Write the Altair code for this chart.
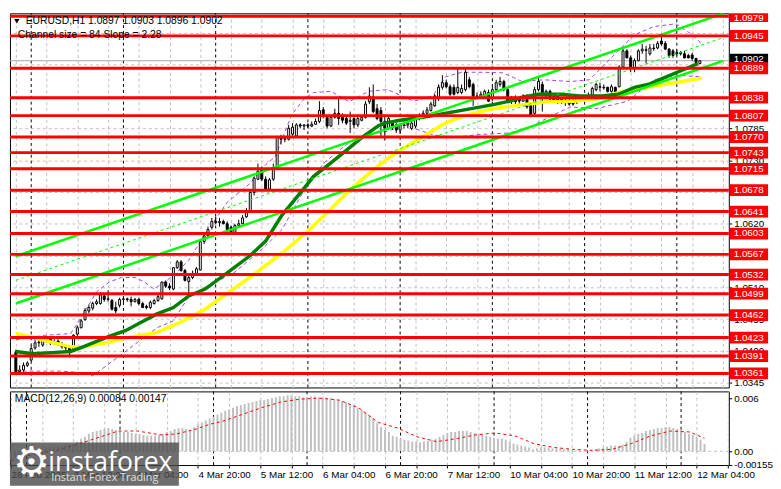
import altair as alt
import pandas as pd

# ---------------- data ----------------
opens = [1.0397, 1.0364, 1.0367, 1.0375, 1.0384, 1.0405, 1.0414, 1.0410, 1.0422, 1.0420,
         1.0414, 1.0417, 1.0412, 1.0407, 1.0405, 1.0402, 1.0429, 1.0440, 1.0454, 1.0469,
         1.0474, 1.0482, 1.0482, 1.0495, 1.0489, 1.0487, 1.0475, 1.0479, 1.0489, 1.0490,
         1.0489, 1.0485, 1.0489, 1.0482, 1.0477, 1.0475, 1.0482, 1.0487, 1.0490, 1.0519,
         1.0512, 1.0507, 1.0544, 1.0554, 1.0539, 1.0520, 1.0527, 1.0534, 1.0540, 1.0589,
         1.0599, 1.0614, 1.0624, 1.0622, 1.0624, 1.0620, 1.0614, 1.0605, 1.0617, 1.0620,
         1.0632, 1.0640, 1.0674, 1.0697, 1.0714, 1.0697, 1.0680, 1.0697, 1.0716, 1.0769,
         1.0766, 1.0766, 1.0775, 1.0772, 1.0791, 1.0789, 1.0791, 1.0789, 1.0792, 1.0797,
         1.0817, 1.0804, 1.0789, 1.0804, 1.0811, 1.0806, 1.0802, 1.0797, 1.0802, 1.0791,
         1.0799, 1.0804, 1.0831, 1.0839, 1.0819, 1.0816, 1.0797, 1.0785, 1.0794, 1.0791,
         1.0782, 1.0791, 1.0791, 1.0785, 1.0789, 1.0802, 1.0807, 1.0811, 1.0816, 1.0824,
         1.0836, 1.0856, 1.0864, 1.0857, 1.0856, 1.0847, 1.0847, 1.0852, 1.0869, 1.0861,
         1.0841, 1.0841, 1.0841, 1.0847, 1.0836, 1.0852, 1.0861, 1.0866, 1.0852, 1.0836,
         1.0839, 1.0836, 1.0832, 1.0841, 1.0824, 1.0811, 1.0852, 1.0861, 1.0841, 1.0849,
         1.0841, 1.0841, 1.0836, 1.0832, 1.0832, 1.0832, 1.0831, 1.0832, 1.0836, 1.0836,
         1.0841, 1.0852, 1.0856, 1.0856, 1.0856, 1.0849, 1.0856, 1.0857, 1.0891, 1.0919,
         1.0907, 1.0889, 1.0902, 1.0919, 1.0921, 1.0914, 1.0924, 1.0924, 1.0936, 1.0932,
         1.0922, 1.0919, 1.0916, 1.0916, 1.0914, 1.0911, 1.0912, 1.0906, 1.0897]
highs = [1.0402, 1.0375, 1.0380, 1.0382, 1.0409, 1.0422, 1.0422, 1.0425, 1.0425, 1.0424,
         1.0420, 1.0420, 1.0415, 1.0410, 1.0409, 1.0429, 1.0444, 1.0455, 1.0474, 1.0480,
         1.0485, 1.0489, 1.0502, 1.0500, 1.0505, 1.0490, 1.0485, 1.0492, 1.0494, 1.0492,
         1.0494, 1.0492, 1.0492, 1.0485, 1.0480, 1.0487, 1.0490, 1.0497, 1.0520, 1.0522,
         1.0517, 1.0545, 1.0557, 1.0557, 1.0542, 1.0530, 1.0539, 1.0545, 1.0592, 1.0605,
         1.0615, 1.0630, 1.0632, 1.0630, 1.0627, 1.0624, 1.0617, 1.0620, 1.0627, 1.0635,
         1.0647, 1.0677, 1.0702, 1.0724, 1.0719, 1.0702, 1.0699, 1.0724, 1.0772, 1.0774,
         1.0772, 1.0791, 1.0794, 1.0794, 1.0794, 1.0792, 1.0794, 1.0797, 1.0802, 1.0832,
         1.0822, 1.0807, 1.0807, 1.0819, 1.0836, 1.0811, 1.0807, 1.0814, 1.0807, 1.0806,
         1.0807, 1.0832, 1.0856, 1.0861, 1.0827, 1.0822, 1.0806, 1.0807, 1.0799, 1.0794,
         1.0794, 1.0797, 1.0799, 1.0802, 1.0806, 1.0811, 1.0816, 1.0822, 1.0831, 1.0844,
         1.0861, 1.0877, 1.0869, 1.0861, 1.0861, 1.0889, 1.0861, 1.0891, 1.0874, 1.0864,
         1.0847, 1.0849, 1.0852, 1.0852, 1.0857, 1.0869, 1.0874, 1.0869, 1.0856, 1.0841,
         1.0842, 1.0839, 1.0844, 1.0844, 1.0827, 1.0857, 1.0874, 1.0866, 1.0852, 1.0852,
         1.0844, 1.0844, 1.0839, 1.0839, 1.0836, 1.0836, 1.0839, 1.0841, 1.0842, 1.0847,
         1.0857, 1.0864, 1.0864, 1.0861, 1.0857, 1.0861, 1.0857, 1.0894, 1.0924, 1.0922,
         1.0911, 1.0906, 1.0922, 1.0931, 1.0928, 1.0931, 1.0931, 1.0936, 1.0947, 1.0936,
         1.0924, 1.0922, 1.0921, 1.0919, 1.0919, 1.0914, 1.0916, 1.0907, 1.0903]
lows = [1.0359, 1.0359, 1.0364, 1.0372, 1.0382, 1.0402, 1.0407, 1.0407, 1.0414, 1.0410,
        1.0410, 1.0409, 1.0404, 1.0400, 1.0389, 1.0399, 1.0425, 1.0439, 1.0452, 1.0465,
        1.0470, 1.0479, 1.0480, 1.0485, 1.0485, 1.0470, 1.0465, 1.0475, 1.0484, 1.0485,
        1.0477, 1.0484, 1.0479, 1.0474, 1.0472, 1.0472, 1.0480, 1.0485, 1.0489, 1.0509,
        1.0505, 1.0505, 1.0542, 1.0537, 1.0520, 1.0497, 1.0524, 1.0532, 1.0539, 1.0585,
        1.0597, 1.0610, 1.0619, 1.0615, 1.0619, 1.0607, 1.0602, 1.0602, 1.0614, 1.0619,
        1.0630, 1.0639, 1.0669, 1.0696, 1.0694, 1.0677, 1.0677, 1.0694, 1.0714, 1.0757,
        1.0761, 1.0764, 1.0772, 1.0769, 1.0785, 1.0782, 1.0785, 1.0787, 1.0791, 1.0794,
        1.0802, 1.0785, 1.0787, 1.0802, 1.0791, 1.0794, 1.0791, 1.0777, 1.0785, 1.0787,
        1.0797, 1.0802, 1.0827, 1.0811, 1.0799, 1.0769, 1.0764, 1.0782, 1.0782, 1.0777,
        1.0777, 1.0785, 1.0785, 1.0782, 1.0785, 1.0799, 1.0802, 1.0807, 1.0814, 1.0822,
        1.0832, 1.0852, 1.0854, 1.0841, 1.0842, 1.0844, 1.0844, 1.0849, 1.0854, 1.0824,
        1.0836, 1.0839, 1.0839, 1.0831, 1.0832, 1.0849, 1.0857, 1.0849, 1.0831, 1.0827,
        1.0827, 1.0827, 1.0831, 1.0819, 1.0804, 1.0807, 1.0849, 1.0814, 1.0836, 1.0832,
        1.0831, 1.0827, 1.0827, 1.0824, 1.0824, 1.0824, 1.0827, 1.0831, 1.0832, 1.0832,
        1.0839, 1.0849, 1.0849, 1.0852, 1.0847, 1.0847, 1.0839, 1.0856, 1.0889, 1.0906,
        1.0882, 1.0882, 1.0901, 1.0914, 1.0897, 1.0911, 1.0919, 1.0922, 1.0928, 1.0921,
        1.0907, 1.0907, 1.0911, 1.0911, 1.0906, 1.0906, 1.0902, 1.0897, 1.0896]
closes = [1.0364, 1.0367, 1.0375, 1.0379, 1.0404, 1.0414, 1.0415, 1.0422, 1.0420, 1.0414,
          1.0415, 1.0412, 1.0407, 1.0405, 1.0400, 1.0427, 1.0440, 1.0452, 1.0470, 1.0475,
          1.0482, 1.0485, 1.0497, 1.0489, 1.0490, 1.0472, 1.0469, 1.0489, 1.0490, 1.0489,
          1.0485, 1.0489, 1.0482, 1.0475, 1.0475, 1.0484, 1.0487, 1.0494, 1.0519, 1.0512,
          1.0509, 1.0544, 1.0554, 1.0539, 1.0522, 1.0527, 1.0534, 1.0542, 1.0589, 1.0599,
          1.0610, 1.0624, 1.0622, 1.0624, 1.0620, 1.0610, 1.0605, 1.0617, 1.0620, 1.0630,
          1.0640, 1.0674, 1.0699, 1.0711, 1.0697, 1.0680, 1.0696, 1.0716, 1.0769, 1.0766,
          1.0767, 1.0785, 1.0787, 1.0791, 1.0789, 1.0791, 1.0789, 1.0792, 1.0797, 1.0816,
          1.0806, 1.0789, 1.0804, 1.0811, 1.0802, 1.0799, 1.0794, 1.0799, 1.0791, 1.0802,
          1.0804, 1.0827, 1.0841, 1.0814, 1.0802, 1.0797, 1.0785, 1.0802, 1.0789, 1.0782,
          1.0791, 1.0790, 1.0794, 1.0794, 1.0802, 1.0807, 1.0811, 1.0817, 1.0827, 1.0841,
          1.0856, 1.0864, 1.0857, 1.0844, 1.0844, 1.0856, 1.0854, 1.0882, 1.0857, 1.0841,
          1.0840, 1.0844, 1.0849, 1.0832, 1.0852, 1.0864, 1.0866, 1.0852, 1.0832, 1.0831,
          1.0831, 1.0832, 1.0841, 1.0822, 1.0807, 1.0852, 1.0866, 1.0847, 1.0849, 1.0836,
          1.0832, 1.0831, 1.0831, 1.0831, 1.0827, 1.0827, 1.0836, 1.0836, 1.0839, 1.0842,
          1.0854, 1.0861, 1.0857, 1.0855, 1.0849, 1.0857, 1.0841, 1.0891, 1.0919, 1.0907,
          1.0889, 1.0902, 1.0919, 1.0922, 1.0920, 1.0924, 1.0923, 1.0932, 1.0931, 1.0922,
          1.0911, 1.0911, 1.0914, 1.0914, 1.0907, 1.0907, 1.0906, 1.0899, 1.0902]

green_idx = [0, 4.25, 9.25, 14.25, 17.5, 24.25, 28.5, 32.5, 36.75, 41, 45, 49.25, 55, 61, 65,
             69.25, 73.5, 77.5, 81.75, 86, 90, 94.25, 96, 100, 107.5, 116, 124.25, 128.5,
             131.75, 136, 141.75, 146.75, 152.5, 156.75, 161, 165, 169.25, 173.5, 177.5]
green_val = [1.0399, 1.0395, 1.0397, 1.0399, 1.0407, 1.0425, 1.0435, 1.0449, 1.0464, 1.0475,
             1.0495, 1.0507, 1.0535, 1.0565, 1.0590, 1.0635, 1.0669, 1.0702, 1.0724, 1.0747,
             1.0769, 1.0789, 1.0794, 1.0799, 1.0806, 1.0816, 1.0826, 1.0832, 1.0839, 1.0844,
             1.0844, 1.0841, 1.0841, 1.0844, 1.0856, 1.0862, 1.0874, 1.0886, 1.0897]
yellow_idx = [0, 4.25, 9.25, 14.25, 17.5, 24.25, 28.5, 32.5, 36.75, 41, 45, 49.25, 62.5, 69.25,
              76, 81.75, 87.5, 95, 100, 106.75, 111.75, 116.75, 124.25, 131.75, 138.5, 145,
              152.5, 156.75, 165, 173.5, 178.5]
yellow_val = [1.0430, 1.0424, 1.0415, 1.0407, 1.0407, 1.0415, 1.0422, 1.0427, 1.0432, 1.0444,
              1.0457, 1.0472, 1.0535, 1.0569, 1.0607, 1.0644, 1.0682, 1.0724, 1.0747, 1.0774,
              1.0794, 1.0807, 1.0819, 1.0826, 1.0831, 1.0832, 1.0837, 1.0847, 1.0857, 1.0866,
              1.0872]
bb_up_idx = [0, 7.5, 14.25, 16, 18.5, 21, 24.25, 27.5, 31, 33.5, 36, 41, 45, 49.25, 55, 61, 65,
             67.5, 71.75, 75, 77.5, 82, 86.75, 91.75, 96.75, 103.5, 108.5, 111.75, 116, 121.75,
             126.75, 131.75, 137.5, 144.25, 149.25, 156, 161, 166, 171.75, 176, 178.5]
bb_up_val = [1.0419, 1.0427, 1.0430, 1.0447, 1.0474, 1.0502, 1.0519, 1.0527, 1.0527, 1.0519,
             1.0507, 1.0530, 1.0557, 1.0602, 1.0657, 1.0690, 1.0722, 1.0736, 1.0808, 1.0836,
             1.0847, 1.0849, 1.0831, 1.0849, 1.0852, 1.0832, 1.0841, 1.0874, 1.0882, 1.0882,
             1.0881, 1.0866, 1.0869, 1.0866, 1.0869, 1.0914, 1.0947, 1.0961, 1.0966, 1.0947,
             1.0931]
bb_lo_idx = [0, 11.75, 16, 20, 26.75, 32.5, 36.75, 41, 45, 49.25, 56.75, 64.25, 69.25, 74.25, 80,
             86, 90, 96.75, 101, 108.5, 113.5, 120, 128.5, 134.25, 139.25, 144.25, 151, 159.25,
             166, 171.75, 178.5]
bb_lo_val = [1.0365, 1.0365, 1.0363, 1.0357, 1.0390, 1.0419, 1.0440, 1.0452, 1.0494, 1.0510,
             1.0535, 1.0577, 1.0610, 1.0669, 1.0724, 1.0757, 1.0772, 1.0780, 1.0791, 1.0774,
             1.0769, 1.0774, 1.0777, 1.0789, 1.0806, 1.0822, 1.0819, 1.0832, 1.0869, 1.0877,
             1.0874]

chan_idx = [0, 184]
chan_upper = [1.05637, 1.09835]
chan_mid = [1.05220, 1.09418]
chan_lower = [1.04820, 1.09018]

levels = [1.0979, 1.0945, 1.0889, 1.0838, 1.0807, 1.0770, 1.0743, 1.0715, 1.0678, 1.0641,
          1.0603, 1.0567, 1.0532, 1.0499, 1.0462, 1.0423, 1.0391, 1.0361]
price_ticks = [1.0345, 1.0400, 1.0455, 1.0510, 1.0565, 1.0620, 1.0675, 1.0730, 1.0785, 1.0840,
               1.0895, 1.0950]
bid = 1.0902

macd_hist = [-0.00098, -0.00076, -0.00055, -0.00044, -0.00022, 0.00000, 0.00011, 0.00022, 0.00033, 0.00044,
             0.00044, 0.00055, 0.00055, 0.00065, 0.00065, 0.00076, 0.00087, 0.00109, 0.00142, 0.00164,
             0.00196, 0.00218, 0.00229, 0.00240, 0.00251, 0.00262, 0.00251, 0.00240, 0.00229, 0.00218,
             0.00218, 0.00207, 0.00196, 0.00196, 0.00185, 0.00175, 0.00175, 0.00175, 0.00185, 0.00196,
             0.00218, 0.00229, 0.00251, 0.00262, 0.00262, 0.00251, 0.00240, 0.00273, 0.00305, 0.00327,
             0.00349, 0.00371, 0.00392, 0.00414, 0.00436, 0.00458, 0.00469, 0.00491, 0.00512, 0.00523,
             0.00534, 0.00545, 0.00556, 0.00567, 0.00578, 0.00578, 0.00589, 0.00600, 0.00610, 0.00621,
             0.00621, 0.00632, 0.00632, 0.00621, 0.00621, 0.00610, 0.00610, 0.00621, 0.00621, 0.00610,
             0.00610, 0.00600, 0.00600, 0.00589, 0.00578, 0.00567, 0.00556, 0.00534, 0.00512, 0.00491,
             0.00469, 0.00436, 0.00403, 0.00371, 0.00316, 0.00273, 0.00240, 0.00218, 0.00175, 0.00164,
             0.00142, 0.00131, 0.00120, 0.00109, 0.00109, 0.00098, 0.00109, 0.00120, 0.00131, 0.00142,
             0.00164, 0.00185, 0.00207, 0.00218, 0.00218, 0.00229, 0.00229, 0.00229, 0.00218, 0.00207,
             0.00196, 0.00185, 0.00175, 0.00164, 0.00153, 0.00142, 0.00142, 0.00131, 0.00109, 0.00087,
             0.00076, 0.00065, 0.00055, 0.00044, 0.00022, 0.00033, 0.00044, 0.00044, 0.00044, 0.00033,
             0.00033, 0.00033, 0.00022, 0.00022, 0.00011, 0.00011, 0.00011, 0.00005, 0.00003, 0.00011,
             0.00022, 0.00033, 0.00044, 0.00055, 0.00065, 0.00065, 0.00065, 0.00076, 0.00109, 0.00153,
             0.00175, 0.00196, 0.00207, 0.00229, 0.00240, 0.00251, 0.00262, 0.00262, 0.00273, 0.00273,
             0.00262, 0.00251, 0.00240, 0.00218, 0.00196, 0.00185, 0.00164, 0.00131, 0.00084]
sig_idx = [0, 3.5, 7.5, 11.75, 16, 20, 27.5, 32.5, 38.5, 42.5, 47.5, 51, 54.25, 59.25, 64.25,
           69.25, 74.25, 79.25, 84.25, 89.25, 94.25, 99.25, 104.25, 109.25, 114.25, 119.25,
           124.25, 129.25, 134.25, 139.25, 144.25, 149.25, 154.25, 159.25, 164.25, 169.25,
           174.25, 178]
sig_val = [-0.00109, -0.00055, -0.00022, 0.00011, 0.00065, 0.00120, 0.00229, 0.00229, 0.00185,
           0.00196, 0.00251, 0.00305, 0.00338, 0.00414, 0.00491, 0.00556, 0.00589, 0.00600,
           0.00578, 0.00491, 0.00327, 0.00262, 0.00164, 0.00109, 0.00142, 0.00185, 0.00207,
           0.00175, 0.00087, 0.00044, 0.00022, 0.00011, 0.00022, 0.00087, 0.00175, 0.00229,
           0.00218, 0.00147]

time_labels = ["28 Feb 2025", "3 Mar 12:00", "4 Mar 04:00", "4 Mar 20:00", "5 Mar 12:00",
               "6 Mar 04:00", "6 Mar 20:00", "7 Mar 12:00", "10 Mar 04:00", "10 Mar 20:00",
               "11 Mar 12:00", "12 Mar 04:00"]
grid_bars = list(range(0, 185, 8))
day_breaks = [4, 28, 52, 76, 100, 124, 148, 172]

title_text = "EURUSD,H1  1.0897 1.0903 1.0896 1.0902"
channel_text = "Channel size = 84 Slope = 2.28"
macd_text = "MACD(12,26,9) 0.00084 0.00147"

# ---------------- frames ----------------
Y_TOP, Y_BOT = 1.09840, 1.03367
n = len(closes)
candles = pd.DataFrame({"i": list(range(n)), "open": opens, "high": highs,
                        "low": lows, "close": closes})
candles["fill"] = ["white" if c >= o else "black" for o, c in zip(opens, closes)]

ma_green = pd.DataFrame({"i": green_idx, "p": green_val})
ma_yellow = pd.DataFrame({"i": yellow_idx, "p": yellow_val})
bands = pd.concat([pd.DataFrame({"i": bb_up_idx, "p": bb_up_val, "b": "up"}),
                   pd.DataFrame({"i": bb_lo_idx, "p": bb_lo_val, "b": "lo"})])
chan_solid = pd.concat([pd.DataFrame({"i": chan_idx, "p": chan_upper, "c": "u"}),
                        pd.DataFrame({"i": chan_idx, "p": chan_lower, "c": "l"})])
chan_dash = pd.DataFrame({"i": chan_idx, "p": chan_mid})
half = 0.00102
lev = pd.DataFrame({"p": levels, "t": [f"{v:.4f}" for v in levels]})
lev["lo"] = lev["p"] - half
lev["hi"] = [min(v + half, Y_TOP) for v in levels]
lev_top = lev[lev["p"] > 1.097]
lev_rest = lev[lev["p"] <= 1.097]
bidf = pd.DataFrame({"p": [bid], "t": [f"{bid:.4f}"], "lo": [bid - half], "hi": [bid + half + 0.0002]})
seps = pd.DataFrame({"i": day_breaks})
macd = pd.DataFrame({"i": list(range(n)), "m": macd_hist, "z": 0.0})
sig = pd.DataFrame({"i": sig_idx, "s": sig_val})

# ---------------- scales / axes ----------------
W, HM, HB = 732, 381, 75
FONT = "Liberation Sans"
GRID = "#c0c0c0"
xs = alt.Scale(domain=[-0.25, 184.25], nice=False, zero=False)
ys = alt.Scale(domain=[Y_BOT, Y_TOP], nice=False, zero=False)
ms = alt.Scale(domain=[-0.00155, 0.00676], nice=False, zero=False)

ax_xm = alt.Axis(values=grid_bars, labels=False, ticks=False, domain=False, grid=True,
                 gridColor=GRID, gridDash=[3, 3], gridWidth=1, title=None)
lab_js = "[" + ",".join("'" + s + "'" for s in time_labels) + "]"
ax_xb = alt.Axis(values=grid_bars, labelExpr=f"datum.value % 16 == 0 ? {lab_js}[datum.value / 16] : ''",
                 labelAlign="left", labelBaseline="top", labelPadding=2, labelFont=FONT,
                 labelFontSize=10, labelColor="black", tickSize=3, tickColor="black",
                 domain=False, grid=True, gridColor=GRID, gridDash=[3, 3], title=None,
                 labelOverlap=False, labelFlush=False, labelBound=False)
ax_ym = alt.Axis(orient="right", values=price_ticks, format=".4f", labelFont=FONT,
                 labelFontSize=10, labelColor="black", labelPadding=2, tickSize=3,
                 tickColor="black", domain=False, grid=True, gridColor=GRID,
                 gridDash=[3, 3], title=None, labelOverlap=False)
ax_yb = alt.Axis(orient="right", values=[-0.00155, 0, 0.006],
                 labelExpr="datum.value > 0.005 ? '0.006' : (datum.value < -0.001 ? '-0.00155' : '0.00')",
                 labelFont=FONT, labelFontSize=10, labelColor="black", labelPadding=2,
                 tickSize=3, tickColor="black", domain=False, grid=False, title=None,
                 labelOverlap=False)


def XM(f="i"):
    return alt.X(f + ":Q", scale=xs, axis=ax_xm)


def YM(f):
    return alt.Y(f + ":Q", scale=ys, axis=ax_ym)


def XB(f="i"):
    return alt.X(f + ":Q", scale=xs, axis=ax_xb)


def YB(f):
    return alt.Y(f + ":Q", scale=ms, axis=ax_yb)


def txt(s, x, y, size=10, color="black", align="left", font=FONT, weight="normal", base="middle"):
    return alt.Chart(pd.DataFrame({"t": [s]})).mark_text(
        align=align, baseline=base, fontSize=size, font=font, color=color, fontWeight=weight
    ).encode(x=alt.value(x), y=alt.value(y), text="t:N")


# ---------------- main panel ----------------
m_seps = alt.Chart(seps).mark_rule(color="black", strokeDash=[3, 3], strokeWidth=1).encode(x=XM())
m_bid = alt.Chart(bidf).mark_rule(color="#a8a8a8", strokeWidth=1).encode(y=YM("p"))
m_bands = alt.Chart(bands).mark_line(color="#a346e0", strokeWidth=1, strokeDash=[4, 3]).encode(
    x=XM(), y=YM("p"), detail="b:N")
m_wick = alt.Chart(candles).mark_rule(color="black", strokeWidth=1).encode(
    x=XM(), y=YM("low"), y2="high")
m_body = alt.Chart(candles).mark_bar(size=2, stroke="black", strokeWidth=1).encode(
    x=XM(), y=YM("open"), y2="close", fill=alt.Fill("fill:N", scale=None))
m_yel = alt.Chart(ma_yellow).mark_line(color="#ffff00", strokeWidth=3.5).encode(x=XM(), y=YM("p"))
m_grn = alt.Chart(ma_green).mark_line(color="#008000", strokeWidth=3.5).encode(x=XM(), y=YM("p"))
m_ch = alt.Chart(chan_solid).mark_line(color="#00ff00", strokeWidth=2.5, clip=True).encode(
    x=XM(), y=YM("p"), detail="c:N")
m_chd = alt.Chart(chan_dash).mark_line(color="#00ff00", strokeWidth=1, strokeDash=[3, 3]).encode(
    x=XM(), y=YM("p"))
m_lev = alt.Chart(lev).mark_rule(color="#ff0000", strokeWidth=3).encode(y=YM("p"))
m_bidbox = alt.Chart(bidf).mark_rect(color="black").encode(
    x=alt.value(733), x2=alt.value(772), y=YM("lo"), y2="hi")
m_bidtxt = alt.Chart(bidf).mark_text(align="left", baseline="middle", font=FONT, fontSize=10,
                                     color="white", dy=-2).encode(
    x=alt.value(737), y=YM("p"), text="t:N")
m_levbox = alt.Chart(lev).mark_rect(color="#ff0000").encode(
    x=alt.value(733), x2=alt.value(772), y=YM("lo"), y2="hi")
m_levtxt = alt.Chart(lev_rest).mark_text(align="left", baseline="middle", font=FONT, fontSize=10,
                                         color="white").encode(
    x=alt.value(737), y=YM("p"), text="t:N")
m_levtxt_top = alt.Chart(lev_top).mark_text(align="left", baseline="top", font=FONT, fontSize=10,
                                            color="white").encode(
    x=alt.value(737), y=alt.value(0), text="t:N")
m_tri = alt.Chart(pd.DataFrame({"t": [1]})).mark_point(
    shape="triangle-down", filled=True, color="black", size=28, opacity=1).encode(
    x=alt.value(7), y=alt.value(8))
m_title = txt(title_text, 16, 8, size=10.5)
m_chan = txt(channel_text, 8, 22, size=10.5)

main = alt.layer(m_seps, m_bid, m_bands, m_wick, m_body, m_yel, m_grn, m_ch, m_chd, m_lev,
                 m_bidbox, m_bidtxt, m_levbox, m_levtxt, m_levtxt_top, m_tri, m_title, m_chan
                 ).properties(width=W, height=HM)

# ---------------- MACD panel ----------------
b_seps = alt.Chart(seps).mark_rule(color="black", strokeDash=[3, 3], strokeWidth=1).encode(x=XB())
b_zero = alt.Chart(pd.DataFrame({"z": [0.0]})).mark_rule(
    color=GRID, strokeDash=[3, 3], strokeWidth=1).encode(y=YB("z"))
b_hist = alt.Chart(macd).mark_rule(color="#c0c0c0", strokeWidth=2).encode(
    x=XB(), y=YB("m"), y2="z")
b_sig = alt.Chart(sig).mark_line(color="#ff0000", strokeWidth=1, strokeDash=[3, 3]).encode(
    x=XB(), y=YB("s"))
b_title = txt(macd_text, 5, 8, size=10.5)
b_wm = alt.Chart(pd.DataFrame({"t": [1]})).mark_rect(color="#4a4a4a", opacity=0.8).encode(
    x=alt.value(0), x2=alt.value(172), y=alt.value(52), y2=alt.value(96))
b_gear = txt("\u2699", 22, 73, size=42, color="white", align="center", font="DejaVu Sans")
b_brand = txt("instaforex", 39, 81, size=27, color="white", font="Open Sans", base="alphabetic")
b_sub = txt("Instant Forex Trading", 42, 91, size=11, color="#e0e0e0", font="Open Sans",
            base="alphabetic")

macd_panel = alt.layer(b_seps, b_zero, b_hist, b_sig, b_title, b_wm, b_gear, b_brand, b_sub
                       ).properties(width=W, height=HB)

chart = alt.vconcat(main, macd_panel, spacing=2).resolve_scale(
    x="independent", y="independent"
).properties(
    padding={"left": 0, "top": 0, "right": 0, "bottom": 0},
    background="white",
).configure_view(stroke="black", strokeWidth=1)

chart.save("out.html", embed_options={"renderer": "svg", "actions": False})
